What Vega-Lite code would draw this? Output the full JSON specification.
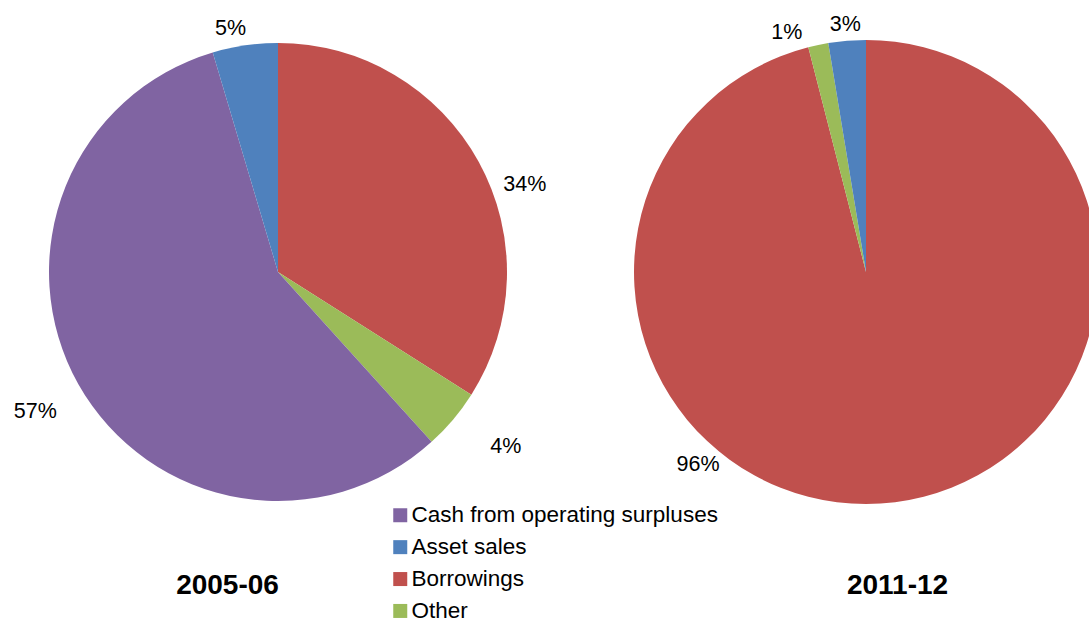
{
  "$schema": "https://vega.github.io/schema/vega-lite/v6.json",
  "width": 1089,
  "height": 544,
  "autosize": {"type": "none"},
  "padding": {"left": 0, "top": 0, "right": 0, "bottom": 75},
  "background": "white",
  "config": {
    "view": {"stroke": null},
    "font": "Liberation Sans",
    "text": {"fontSize": 21.5, "font": "Liberation Sans", "color": "black"},
    "legend": {
      "orient": "none",
      "legendX": 389,
      "legendY": 504,
      "padding": 0,
      "symbolType": "square",
      "symbolSize": 196,
      "symbolStrokeWidth": 0,
      "labelFontSize": 22.5,
      "labelFont": "Liberation Sans",
      "labelColor": "black",
      "labelOffset": 0,
      "rowPadding": 8.9,
      "labelLimit": 400
    }
  },
  "data": {
    "values": [
      {"year": "2005-06", "source": "Borrowings", "share": 0.340},
      {"year": "2005-06", "source": "Other", "share": 0.043},
      {"year": "2005-06", "source": "Cash from operating surpluses", "share": 0.571},
      {"year": "2005-06", "source": "Asset sales", "share": 0.046},
      {"year": "2011-12", "source": "Borrowings", "share": 0.960},
      {"year": "2011-12", "source": "Other", "share": 0.014},
      {"year": "2011-12", "source": "Asset sales", "share": 0.026}
    ]
  },
  "transform": [
    {"calculate": "indexof(['Borrowings','Other','Cash from operating surpluses','Asset sales'], datum.source)", "as": "slice"}
  ],
  "layer": [
    {
      "transform": [{"filter": "datum.year == '2005-06'"}],
      "mark": {"type": "arc", "outerRadius": 229},
      "encoding": {
        "x": {"field": "year", "type": "nominal", "scale": {"type": "point", "domain": ["2005-06", "2011-12"], "range": [278, 866], "padding": 0}, "axis": null},
        "theta": {"field": "share", "type": "quantitative", "stack": true},
        "order": {"field": "slice", "type": "quantitative"},
        "color": {"field": "source", "type": "nominal", "title": null,
          "scale": {"domain": ["Cash from operating surpluses", "Asset sales", "Borrowings", "Other"], "range": ["#8064A2", "#4F81BD", "#C0504D", "#9BBB59"]}}
      }
    },
    {
      "transform": [{"filter": "datum.year == '2011-12'"}],
      "mark": {"type": "arc", "outerRadius": 232},
      "encoding": {
        "x": {"field": "year", "type": "nominal", "scale": {"type": "point", "domain": ["2005-06", "2011-12"], "range": [278, 866], "padding": 0}, "axis": null},
        "theta": {"field": "share", "type": "quantitative", "stack": true},
        "order": {"field": "slice", "type": "quantitative"},
        "color": {"field": "source", "type": "nominal", "title": null,
          "scale": {"domain": ["Cash from operating surpluses", "Asset sales", "Borrowings", "Other"], "range": ["#8064A2", "#4F81BD", "#C0504D", "#9BBB59"]}}
      }
    },
    {
      "transform": [{"filter": "datum.year == '2005-06'"}],
      "mark": {"type": "text", "radius": 260, "dx": 19, "dy": 38},
      "encoding": {
        "x": {"field": "year", "type": "nominal", "scale": {"type": "point", "domain": ["2005-06", "2011-12"], "range": [278, 866], "padding": 0}, "axis": null},
        "theta": {"field": "share", "type": "quantitative", "stack": true},
        "order": {"field": "slice", "type": "quantitative"},
        "text": {"field": "share", "type": "quantitative", "format": ".0%"},
        "opacity": {"condition": {"test": "datum.source == 'Borrowings'", "value": 1}, "value": 0}
      }
    },
    {
      "transform": [{"filter": "datum.year == '2005-06'"}],
      "mark": {"type": "text", "radius": 260, "dx": 29, "dy": 7},
      "encoding": {
        "x": {"field": "year", "type": "nominal", "scale": {"type": "point", "domain": ["2005-06", "2011-12"], "range": [278, 866], "padding": 0}, "axis": null},
        "theta": {"field": "share", "type": "quantitative", "stack": true},
        "order": {"field": "slice", "type": "quantitative"},
        "text": {"field": "share", "type": "quantitative", "format": ".0%"},
        "opacity": {"condition": {"test": "datum.source == 'Other'", "value": 1}, "value": 0}
      }
    },
    {
      "transform": [{"filter": "datum.year == '2005-06'"}],
      "mark": {"type": "text", "radius": 260, "dx": -16, "dy": 13},
      "encoding": {
        "x": {"field": "year", "type": "nominal", "scale": {"type": "point", "domain": ["2005-06", "2011-12"], "range": [278, 866], "padding": 0}, "axis": null},
        "theta": {"field": "share", "type": "quantitative", "stack": true},
        "order": {"field": "slice", "type": "quantitative"},
        "text": {"field": "share", "type": "quantitative", "format": ".0%"},
        "opacity": {"condition": {"test": "datum.source == 'Cash from operating surpluses'", "value": 1}, "value": 0}
      }
    },
    {
      "transform": [{"filter": "datum.year == '2005-06'"}],
      "mark": {"type": "text", "radius": 260, "dx": -10, "dy": 14},
      "encoding": {
        "x": {"field": "year", "type": "nominal", "scale": {"type": "point", "domain": ["2005-06", "2011-12"], "range": [278, 866], "padding": 0}, "axis": null},
        "theta": {"field": "share", "type": "quantitative", "stack": true},
        "order": {"field": "slice", "type": "quantitative"},
        "text": {"field": "share", "type": "quantitative", "format": ".0%"},
        "opacity": {"condition": {"test": "datum.source == 'Asset sales'", "value": 1}, "value": 0}
      }
    },
    {
      "transform": [{"filter": "datum.year == '2011-12'"}],
      "mark": {"type": "text", "radius": 256, "dx": -200, "dy": -61},
      "encoding": {
        "x": {"field": "year", "type": "nominal", "scale": {"type": "point", "domain": ["2005-06", "2011-12"], "range": [278, 866], "padding": 0}, "axis": null},
        "theta": {"field": "share", "type": "quantitative", "stack": true},
        "order": {"field": "slice", "type": "quantitative"},
        "text": {"field": "share", "type": "quantitative", "format": ".0%"},
        "opacity": {"condition": {"test": "datum.source == 'Borrowings'", "value": 1}, "value": 0}
      }
    },
    {
      "transform": [{"filter": "datum.year == '2011-12'"}],
      "mark": {"type": "text", "radius": 254, "dx": -27, "dy": 10},
      "encoding": {
        "x": {"field": "year", "type": "nominal", "scale": {"type": "point", "domain": ["2005-06", "2011-12"], "range": [278, 866], "padding": 0}, "axis": null},
        "theta": {"field": "share", "type": "quantitative", "stack": true},
        "order": {"field": "slice", "type": "quantitative"},
        "text": {"field": "share", "type": "quantitative", "format": ".0%"},
        "opacity": {"condition": {"test": "datum.source == 'Other'", "value": 1}, "value": 0}
      }
    },
    {
      "transform": [{"filter": "datum.year == '2011-12'"}],
      "mark": {"type": "text", "radius": 254, "dx": 0, "dy": 6},
      "encoding": {
        "x": {"field": "year", "type": "nominal", "scale": {"type": "point", "domain": ["2005-06", "2011-12"], "range": [278, 866], "padding": 0}, "axis": null},
        "theta": {"field": "share", "type": "quantitative", "stack": true},
        "order": {"field": "slice", "type": "quantitative"},
        "text": {"field": "share", "type": "quantitative", "format": ".0%"},
        "opacity": {"condition": {"test": "datum.source == 'Asset sales'", "value": 1}, "value": 0}
      }
    },
    {
      "data": {"values": [{"year": "2005-06"}, {"year": "2011-12"}]},
      "mark": {"type": "point", "opacity": 0},
      "encoding": {
        "x": {"field": "year", "type": "nominal",
          "scale": {"type": "point", "domain": ["2005-06", "2011-12"], "range": [227, 897], "padding": 0},
          "axis": {"orient": "bottom", "title": null, "domain": false, "ticks": false, "grid": false,
            "labelFontSize": 28, "labelFontWeight": "bold", "labelColor": "black", "labelFont": "Liberation Sans", "labelPadding": 27, "labelAngle": 0}}
      }
    }
  ],
  "resolve": {"scale": {"x": "independent"}}
}
